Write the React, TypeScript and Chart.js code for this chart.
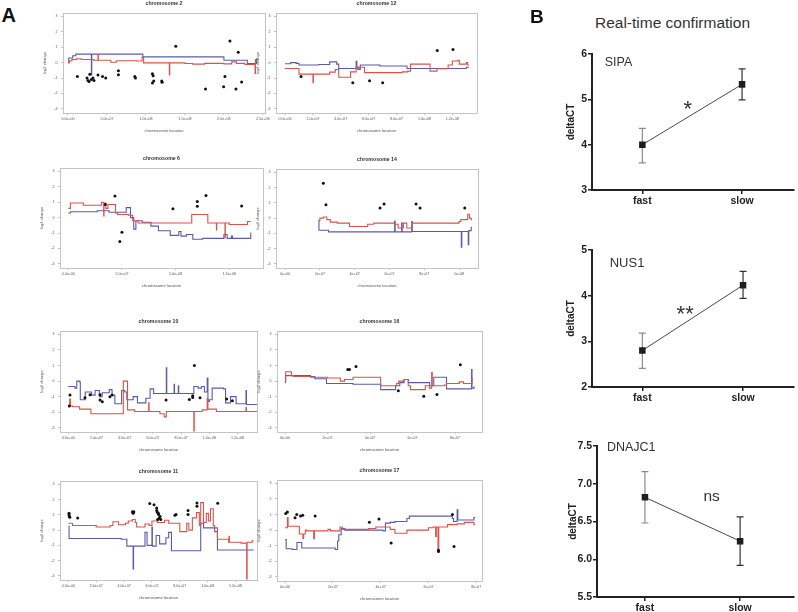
import React, { useEffect, useRef } from 'react';
import { Chart, registerables } from 'chart.js';

Chart.register(...registerables);

const FONT = "'Liberation Sans', Arial, Helvetica, sans-serif";
const RED = '#d9534a';
const BLUE = '#5b5bab';

type Pt = [number, number];

// ---------- Panel A data (x in Mb, y = log2 change) ----------
const chrYTicks = [-3, -2, -1, 0, 1, 2, 3];

const chr2Red: Pt[] = [[0, 0.0], [2, 0.12], [5, 0.2], [11, 0.25], [17, 0.2], [33, 0.15], [38.5, 0.52], [39, 0.15], [55, 0.02], [62, 0.12], [88, 0.1], [95, 0.35], [97, -0.02], [130, -0.8], [130.5, -0.02], [150, -0.06], [160, -0.1], [175, -0.05], [200, -0.08], [210, 0.05], [216, -0.05], [227, -0.12], [240, -0.7], [240.5, 0.2], [243, 0.2]];
const chr2Blue: Pt[] = [[0, 0.0], [1, 0.3], [6, 0.45], [10, 0.55], [30, -0.8], [30.5, 0.55], [96, 0.37], [200, 0.15], [230, -0.06], [242, 0.25], [243, 0.25]];
const chr2Dots: Pt[] = [[12, -0.9], [24.4, -1.0], [25.7, -1.16], [27, -1.22], [30, -1.1], [32.1, -1.0], [33.4, -1.16], [28, -0.76], [38.5, -0.8], [44.3, -0.9], [48.4, -1.0], [64.7, -0.52], [64.7, -0.78], [85.7, -0.9], [86.5, -1.0], [108.3, -0.72], [109.2, -0.85], [108.3, -1.33], [110, -1.2], [120.3, -1.2], [120.7, -1.28], [138.3, 1.07], [176.4, -1.72], [199.6, -1.56], [201.3, -0.9], [207.7, 1.4], [218.4, 0.67], [215.4, -1.72], [222.7, -1.26]];
const chr2Ticks = [0, 50, 100, 150, 200, 250];

const chr12Red: Pt[] = [[0, -0.38], [10, -0.75], [20, -1.3], [20.3, -0.75], [32, -0.62], [36, -0.45], [38.5, -0.95], [47, -0.6], [51, -0.3], [52, -0.45], [53, -0.3], [57, -0.65], [84, -0.6], [88, -0.55], [90, -0.1], [104, -0.55], [109, -0.4], [117, -0.15], [120, 0.1], [124, 0.15], [125, -0.1], [130, 0.0], [131, -0.15], [132, -0.15]];
const chr12Blue: Pt[] = [[0, -0.07], [4, 0.0], [8, -0.05], [10, -0.15], [24, -0.12], [32, 0.05], [37, -0.1], [38.5, -0.38], [51, 0.08], [51.5, -0.3], [53, -0.45], [54, -0.15], [68, -0.22], [87.5, -0.38], [130, -0.3], [132, -0.3]];
const chr12Dots: Pt[] = [[11.5, -0.9], [48.6, -1.3], [60.6, -1.18], [70, -1.3], [109.2, 0.78], [120.5, 0.85]];
const chr12Ticks = [0, 20, 40, 60, 80, 100, 120];

const chr6Red: Pt[] = [[0, 0.6], [2, 0.95], [14, 0.8], [31, 1.0], [33, 0.1], [33.3, 0.95], [35, 0.6], [37, 0.85], [44, 0.3], [46, 0.2], [56, 0.15], [60, -0.2], [65, -0.35], [115, 0.2], [130, -0.35], [138, -0.8], [138.3, -0.35], [146, -1.3], [146.3, -0.35], [150, -0.45], [167, -0.25], [170, -0.25]];
const chr6Blue: Pt[] = [[0, 0.3], [2, 0.38], [27, 0.45], [38, 0.35], [54, 0.65], [58, 0.0], [61, -0.75], [63, -0.2], [69, -0.3], [77, -0.55], [84, -0.85], [95, -1.15], [103, -0.9], [105, -1.2], [110, -1.1], [116, -1.4], [125, -1.35], [145, -1.1], [148, -1.35], [152, -1.2], [153, -1.35], [170, -1.0], [170.5, -1.0]];
const chr6Dots: Pt[] = [[34.5, 0.85], [43.5, 1.4], [50, -0.95], [48, -1.55], [97.5, 0.58], [120.2, 1.05], [120.2, 0.73], [128.3, 1.43], [161.5, 0.75]];
const chr6Ticks = [0, 50, 100, 150];

const chr14Red: Pt[] = [[19.2, -0.17], [20, 0.0], [22, 0.07], [24, -0.1], [26, -0.26], [30, -0.33], [37, -0.55], [47.5, -0.4], [51, -0.33], [63, -0.4], [65, -0.65], [68, -0.33], [70, -0.65], [73, -0.33], [100, -0.22], [101, -0.1], [105, 0.25], [106, 0.0], [107, -0.1], [107.5, -0.1]];
const chr14Blue: Pt[] = [[19.2, -0.17], [19.5, -0.8], [25, -0.9], [63, -0.2], [63.3, -0.9], [67, -0.3], [67.3, -0.9], [72.8, -0.22], [73.1, -0.88], [101.3, -1.9], [101.6, -0.88], [105.3, -1.75], [105.6, -0.82], [107, -0.6], [107.5, -0.6]];
const chr14Dots: Pt[] = [[22, 2.28], [23.5, 0.88], [54.6, 0.66], [56.9, 0.92], [75.3, 0.92], [77.6, 0.66], [103.3, 0.66]];
const chr14Ticks = [0, 20, 40, 60, 80, 100];

const chr10Red: Pt[] = [[0, -1.6], [1, -1.15], [1.5, -1.6], [3, -1.65], [8, -1.8], [16, -2.1], [39, 0.0], [42, -1.85], [47, -1.95], [57, -1.4], [57.3, -1.95], [65, -2.1], [68, -2.3], [69.5, -1.95], [89, -3.2], [89.3, -1.95], [95, -1.85], [98.5, -1.1], [99, -1.8], [105, -1.95], [126, -1.7], [126.3, -1.95], [134, -1.95]];
const chr10Blue: Pt[] = [[0, -0.35], [4.7, -0.45], [6, 0.0], [8, -0.05], [8.5, -1.2], [12, -0.7], [16.5, -0.9], [19, -0.6], [22, -1.0], [24, -0.75], [29, -0.55], [31, -0.9], [33, -1.45], [37.8, -0.6], [40, -0.7], [41.5, -1.2], [46, -1.0], [49, -1.4], [55, -1.1], [58, -0.5], [60.5, -0.8], [69.5, 0.85], [69.8, -0.8], [75, -0.2], [75.3, -0.8], [78, -0.3], [78.3, -0.8], [89, -0.35], [92, -0.45], [94.5, -0.35], [96.5, -0.7], [98.5, 0.2], [99, -1.3], [100, -1.2], [102, -0.45], [110, -0.5], [111.5, -1.4], [115, -1.0], [119, -1.45], [126, -0.6], [126.3, -1.5], [134, -1.5]];
const chr10Dots: Pt[] = [[0.7, -1.6], [1.2, -0.9], [11.8, -1.07], [15.4, -0.88], [22.5, -0.88], [22.5, -1.22], [24.1, -1.33], [29.5, -1.0], [31, -0.9], [69.3, -1.22], [85.8, -1.18], [88.2, -0.94], [88.2, -1.05], [89.4, 1.0], [93.4, -1.07], [112.3, -1.15], [116.3, -1.26]];
const chr10Ticks = [0, 20, 40, 60, 80, 100, 120];

const chr16Red: Pt[] = [[0, 0.0], [0.3, 0.6], [3, 0.35], [4, 0.3], [12, 0.25], [20, 0.2], [26, 0.0], [28, 0.1], [32, 0.25], [45, -0.3], [52.5, -0.15], [53.5, 0.0], [56, 0.1], [58, -0.3], [59, -0.55], [66, -0.3], [68, -0.45], [69, 0.55], [69.3, -0.3], [75, -0.25], [76, -0.15], [82, -0.05], [84, -0.15], [88, 0.15], [88.5, 0.15]];
const chr16Blue: Pt[] = [[0, -0.1], [0.2, 0.35], [12, 0.3], [14, 0.15], [19.5, -0.15], [32, -0.2], [45, -0.55], [52, -0.3], [54, -0.1], [56, 0.1], [58, -0.1], [68, -0.3], [70, 0.25], [76, -0.5], [87.8, 0.75], [88, -0.45], [89, -0.35]];
const chr16Dots: Pt[] = [[29.5, 0.75], [30.3, 0.75], [33.4, 0.94], [53.3, -0.62], [65.3, -0.98], [71.5, -0.86], [82.5, 1.05]];
const chr16Ticks = [0, 20, 40, 60, 80];

const chr11Red: Pt[] = [[0, 0.45], [3, 0.3], [20, 0.2], [30, 0.3], [32, 0.55], [36, 0.35], [41, 0.45], [43, 0.6], [46, 0.7], [48, 0.5], [49, 0.2], [55, 0.4], [58, 0.3], [60, 0.6], [64, 0.5], [69, 0.65], [72, 0.45], [80, -0.1], [85, 0.45], [86.5, 0.0], [89, 0.8], [92, 1.15], [94, 0.3], [95, 1.8], [97, 0.5], [99, 1.1], [100.5, 0.6], [102, 1.4], [104, 0.3], [105, 0.15], [107, -0.6], [115, -0.8], [115.3, -0.4], [115.6, -0.8], [124, -0.85], [128, -3.2], [128.3, -0.8], [132, -0.7], [133, -0.7]];
const chr11Blue: Pt[] = [[0, 0.25], [0.5, -0.55], [38, -0.6], [42, -1.05], [46.5, -2.55], [46.8, -1.05], [55, -0.15], [56.5, -1.0], [60, 0.2], [60.3, -1.05], [63, -0.35], [65.5, -0.9], [70, -0.5], [72, -0.15], [74, -1.35], [95, 0.45], [97, 0.15], [105, -0.1], [107, -1.3], [133, -1.3]];
const chr11Dots: Pt[] = [[0.5, 1.1], [0.5, 1.0], [0.7, 0.9], [1, 0.85], [6.7, 0.8], [46, 1.2], [47, 1.2], [46.5, 1.1], [58.4, 1.75], [61.5, 1.67], [63.4, 1.45], [63.4, 1.28], [63.9, 1.17], [64.6, 1.1], [64.8, 1.02], [65.8, 0.9], [65.3, 0.8], [66.3, 0.7], [64.1, 0.7], [76.5, 0.98], [77.3, 1.02], [85.9, 1.28], [85.9, 1.02], [92.3, 1.78], [92.3, 1.56], [107.2, 1.76]];
const chr11Ticks = [0, 20, 40, 60, 80, 100, 120];

const chr17Red: Pt[] = [[0, 0.15], [1, 0.8], [1.3, 0.25], [6, -0.25], [7.5, -0.55], [7.8, -0.25], [8.5, 0.0], [9, -0.05], [12, -0.55], [12.3, -0.05], [18, 0.05], [19, -0.05], [23, 0.2], [24, 0.05], [35, 0.1], [38, 0.2], [44, 0.05], [46, -0.2], [51, 0.0], [60, 0.15], [62, 0.2], [63, -0.4], [63.3, 0.2], [64, -1.3], [64.3, 0.2], [68, 0.35], [72, 0.4], [75, 0.5], [79, 0.35], [79.5, 0.35]];
const chr17Blue: Pt[] = [[0, -0.6], [0.5, -1.2], [3, -1.25], [5, -0.8], [7, -1.15], [21, -1.25], [22, -0.7], [22.5, -0.3], [23.5, 0.1], [25, 0.0], [41, -0.05], [42, 0.45], [44, 0.5], [46, 0.55], [51, 0.75], [52, 0.9], [70, 0.75], [70.5, 0.55], [72, 1.3], [72.3, 0.65], [79, 0.8], [79.5, 0.8]];
const chr17Dots: Pt[] = [[0.3, 1.07], [1, 1.17], [4.2, 0.8], [4.9, 1.0], [6.5, 0.9], [7.4, 0.96], [12.6, 0.9], [35.3, 0.5], [39.3, 0.72], [44.4, -0.83], [64.2, -1.3], [64.2, -1.38], [70, 1.0], [70.7, -1.05]];
const chr17Ticks = [0, 20, 40, 60, 80];

// ---------- Panel B data ----------
const groups = ['fast', 'slow'];
const groupsX = [0, 1];
const sipaMean = [4.0, 5.33];
const sipaLow = [3.6, 4.99];
const sipaHigh = [4.36, 5.67];
const sipaTicks = [3, 4, 5, 6];
const nus1Mean = [2.8, 4.23];
const nus1Low = [2.41, 3.94];
const nus1High = [3.18, 4.53];
const nus1Ticks = [2, 3, 4, 5];
const dnajc1Mean = [6.82, 6.24];
const dnajc1Low = [6.48, 5.92];
const dnajc1High = [7.16, 6.56];
const dnajc1Ticks = [5.5, 6.0, 6.5, 7.0, 7.5];
const barColors = ['#8c8c8c', '#333333'];

// ---------- helpers ----------
const toXY = (a: Pt[]) => a.map(([x, y]) => ({ x, y }));

function rExp(mb: number, d: number): string {
  const s = (mb * 1e6).toExponential(d);
  return s.replace(/e([+-])(\d+)$/, (_m: string, sg: string, ex: string) => 'e' + sg + ex.padStart(2, '0'));
}

const framePlugin = {
  id: 'frame',
  afterDraw(chart: any) {
    const { ctx, chartArea: a } = chart;
    ctx.save();
    ctx.strokeStyle = '#c4c4c4';
    ctx.lineWidth = 1;
    ctx.strokeRect(Math.round(a.left) + 0.5, Math.round(a.top) + 0.5, Math.round(a.right - a.left), Math.round(a.bottom - a.top));
    ctx.restore();
  },
};

interface ChromSpec {
  title: string;
  left: number; top: number; right: number; bottom: number;
  xmin: number; xmax: number;
  xticks: number[]; digits: number;
  red: Pt[]; blue: Pt[]; dots: Pt[];
}

const YW = 24;
const XH = 22;
const TH = 13;
const PR = 10;

function chromConfig(s: ChromSpec): any {
  return {
    type: 'line',
    data: {
      datasets: [
        { data: toXY(s.dots), showLine: false, pointRadius: 1.5, pointBorderWidth: 0, pointBackgroundColor: '#111', borderColor: '#111' },
        { data: toXY(s.red), borderColor: RED, borderWidth: 1.1, stepped: 'before', pointRadius: 0, fill: false },
        { data: toXY(s.blue), borderColor: BLUE, borderWidth: 1.1, stepped: 'before', pointRadius: 0, fill: false },
      ],
    },
    options: {
      responsive: false,
      animation: false,
      events: [],
      layout: { padding: { top: 0, right: PR, bottom: 0, left: 0 } },
      scales: {
        x: {
          type: 'linear', min: s.xmin, max: s.xmax,
          afterBuildTicks: (sc: any) => { sc.ticks = s.xticks.map((v) => ({ value: v })); },
          afterFit: (sc: any) => { sc.height = XH; },
          ticks: { autoSkip: false, maxRotation: 0, minRotation: 0, padding: 1.5, color: '#555', font: { family: FONT, size: 3.6 }, callback: (v: number) => rExp(v, s.digits) },
          grid: { display: true, drawOnChartArea: false, drawTicks: true, tickLength: 2, color: '#999', lineWidth: 0.6 },
          border: { display: false },
          title: { display: true, text: 'chromosome location', color: '#555', font: { family: FONT, size: 4.1 }, padding: { top: 0, bottom: 1.5 } },
        },
        y: {
          type: 'linear', min: -3.27, max: 3.22,
          afterBuildTicks: (sc: any) => { sc.ticks = chrYTicks.map((v) => ({ value: v })); },
          afterFit: (sc: any) => { sc.width = YW; },
          ticks: { padding: 3.5, color: '#555', font: { family: FONT, size: 3.6 }, callback: (v: number) => String(v) },
          grid: { display: true, drawOnChartArea: false, drawTicks: true, tickLength: 2, color: '#999', lineWidth: 0.6 },
          border: { display: false },
          title: { display: true, text: 'log2 change', color: '#555', font: { family: FONT, size: 4.1 }, padding: { top: 3.5, bottom: 0 } },
        },
      },
      plugins: {
        legend: { display: false },
        tooltip: { enabled: false },
        title: { display: true, text: s.title, fullSize: false, color: '#333', font: { family: FONT, size: 5.2, weight: 'bold' }, padding: { top: 0.4, bottom: 6.36 } },
      },
    },
    plugins: [framePlugin],
  };
}

interface Note { text: string; x: number; y: number; size: number; align?: string; }

interface QSpec {
  left: number; top: number; right: number; bottom: number;
  xmin: number; xmax: number;
  ymin: number; ymax: number; yticks: number[]; ydigits: number;
  mean: number[]; low: number[]; high: number[];
  titlePad: number;
  notes: Note[];
}

const QW = 30;
const QXH = 24;
const QPT = 8;

function qConfig(s: QSpec): any {
  const errPlugin = {
    id: 'errbars',
    beforeDatasetsDraw(chart: any) {
      const { ctx, scales } = chart;
      const x = scales.x, y = scales.y;
      ctx.save();
      groupsX.forEach((gx, i) => {
        const px = x.getPixelForValue(gx);
        const y1 = y.getPixelForValue(s.low[i]);
        const y2 = y.getPixelForValue(s.high[i]);
        ctx.strokeStyle = barColors[i];
        ctx.lineWidth = 1.2;
        ctx.beginPath();
        ctx.moveTo(px, y1); ctx.lineTo(px, y2);
        ctx.moveTo(px - 3.5, y1); ctx.lineTo(px + 3.5, y1);
        ctx.moveTo(px - 3.5, y2); ctx.lineTo(px + 3.5, y2);
        ctx.stroke();
      });
      ctx.restore();
    },
  };
  const notePlugin = {
    id: 'notes',
    afterDatasetsDraw(chart: any) {
      const { ctx, scales } = chart;
      s.notes.forEach((n) => {
        ctx.save();
        ctx.font = `${n.size}px ${FONT}`;
        ctx.fillStyle = '#333';
        ctx.textAlign = (n.align || 'center') as CanvasTextAlign;
        ctx.textBaseline = 'middle';
        ctx.fillText(n.text, scales.x.getPixelForValue(n.x), scales.y.getPixelForValue(n.y));
        ctx.restore();
      });
    },
  };
  return {
    type: 'line',
    data: {
      datasets: [{
        data: groupsX.map((x, i) => ({ x, y: s.mean[i] })),
        borderColor: '#4a4a4a', borderWidth: 1,
        pointStyle: 'rect', pointRadius: 4.6, pointBorderWidth: 0,
        pointBackgroundColor: '#1e1e1e', pointBorderColor: '#1e1e1e',
      }],
    },
    options: {
      responsive: false,
      animation: false,
      events: [],
      layout: { padding: { top: QPT, right: 0, bottom: 0, left: 0 } },
      scales: {
        x: {
          type: 'linear', min: s.xmin, max: s.xmax,
          afterBuildTicks: (sc: any) => { sc.ticks = groupsX.map((v) => ({ value: v })); },
          afterFit: (sc: any) => { sc.height = QXH; },
          ticks: { autoSkip: false, maxRotation: 0, padding: 1, color: '#222', font: { family: FONT, size: 10.5, weight: 'bold' }, callback: (v: number) => groups[v] },
          grid: { display: true, drawOnChartArea: false, drawTicks: true, tickLength: 4, lineWidth: 1.5, color: '#222' },
          border: { display: true, width: 2, color: '#222' },
        },
        y: {
          type: 'linear', min: s.ymin, max: s.ymax,
          afterBuildTicks: (sc: any) => { sc.ticks = s.yticks.map((v) => ({ value: v })); },
          afterFit: (sc: any) => { sc.width = QW; },
          ticks: { padding: 1, color: '#222', font: { family: FONT, size: 10.5, weight: 'bold' }, callback: (v: number) => v.toFixed(s.ydigits) },
          grid: { display: true, drawOnChartArea: false, drawTicks: true, tickLength: 4, lineWidth: 1.5, color: '#222' },
          border: { display: true, width: 2, color: '#222' },
          title: { display: true, text: 'deltaCT', color: '#222', font: { family: FONT, size: 10, weight: 'bold' }, padding: { top: s.titlePad, bottom: 0 } },
        },
      },
      plugins: { legend: { display: false }, tooltip: { enabled: false } },
    },
    plugins: [errPlugin, notePlugin],
  };
}

function ChartCanvas(props: { left: number; top: number; width: number; height: number; make: () => any }) {
  const ref = useRef<HTMLCanvasElement>(null);
  useEffect(() => {
    const chart = new Chart(ref.current as HTMLCanvasElement, props.make());
    return () => chart.destroy();
  }, []);
  return (
    <canvas
      ref={ref}
      width={props.width}
      height={props.height}
      style={{ position: 'absolute', left: props.left, top: props.top, width: props.width, height: props.height }}
    />
  );
}

const chromSpecs: ChromSpec[] = [
  { title: 'chromosome 2', left: 63, top: 13, right: 265, bottom: 113, xmin: -6.4, xmax: 252.7, xticks: chr2Ticks, digits: 1, red: chr2Red, blue: chr2Blue, dots: chr2Dots },
  { title: 'chromosome 12', left: 276, top: 13, right: 477, bottom: 113, xmin: -6.5, xmax: 137.7, xticks: chr12Ticks, digits: 1, red: chr12Red, blue: chr12Blue, dots: chr12Dots },
  { title: 'chromosome 6', left: 60, top: 168, right: 263, bottom: 268, xmin: -7.7, xmax: 181.4, xticks: chr6Ticks, digits: 1, red: chr6Red, blue: chr6Blue, dots: chr6Dots },
  { title: 'chromosome 14', left: 276, top: 169, right: 478, bottom: 268, xmin: -5.2, xmax: 110.9, xticks: chr14Ticks, digits: 0, red: chr14Red, blue: chr14Blue, dots: chr14Dots },
  { title: 'chromosome 10', left: 60, top: 331, right: 257, bottom: 432, xmin: -5.9, xmax: 133.8, xticks: chr10Ticks, digits: 1, red: chr10Red, blue: chr10Blue, dots: chr10Dots },
  { title: 'chromosome 16', left: 277, top: 331, right: 482, bottom: 432, xmin: -3.8, xmax: 92.7, xticks: chr16Ticks, digits: 0, red: chr16Red, blue: chr16Blue, dots: chr16Dots },
  { title: 'chromosome 11', left: 60, top: 481, right: 257, bottom: 580, xmin: -6.0, xmax: 135.4, xticks: chr11Ticks, digits: 1, red: chr11Red, blue: chr11Blue, dots: chr11Dots },
  { title: 'chromosome 17', left: 277, top: 480, right: 482, bottom: 581, xmin: -3.35, xmax: 82.4, xticks: chr17Ticks, digits: 0, red: chr17Red, blue: chr17Blue, dots: chr17Dots },
];

const qSpecs: QSpec[] = [
  {
    left: 592, top: 54, right: 798, bottom: 190, xmin: -0.505, xmax: 1.515,
    ymin: 3, ymax: 6, yticks: sipaTicks, ydigits: 0,
    mean: sipaMean, low: sipaLow, high: sipaHigh, titlePad: 3.7,
    notes: [{ text: 'SIPA', x: -0.377, y: 5.81, size: 12.5, align: 'left' }, { text: '*', x: 0.456, y: 4.76, size: 22 }],
  },
  {
    left: 592, top: 250, right: 798, bottom: 387, xmin: -0.5, xmax: 1.5,
    ymin: 2, ymax: 5, yticks: nus1Ticks, ydigits: 0,
    mean: nus1Mean, low: nus1Low, high: nus1High, titlePad: 3.7,
    notes: [{ text: 'NUS1', x: -0.324, y: 4.715, size: 13, align: 'left' }, { text: '**', x: 0.425, y: 3.58, size: 22 }],
  },
  {
    left: 597, top: 446, right: 798, bottom: 597, xmin: -0.504, xmax: 1.56,
    ymin: 5.5, ymax: 7.5, yticks: dnajc1Ticks, ydigits: 1,
    mean: dnajc1Mean, low: dnajc1Low, high: dnajc1High, titlePad: 0,
    notes: [{ text: 'DNAJC1', x: -0.4, y: 7.48, size: 12.5, align: 'left' }, { text: 'ns', x: 0.7, y: 6.83, size: 15.5 }],
  },
];

export default function App() {
  return (
    <div style={{ position: 'fixed', left: 0, top: 0, width: 798, height: 612, overflow: 'hidden', background: '#ffffff', fontFamily: FONT }}>
      {chromSpecs.map((s) => (
        <ChartCanvas
          key={s.title}
          left={s.left - YW}
          top={s.top - TH}
          width={s.right - s.left + YW + PR}
          height={s.bottom - s.top + TH + XH}
          make={() => chromConfig(s)}
        />
      ))}
      {qSpecs.map((s, i) => (
        <ChartCanvas
          key={'q' + i}
          left={s.left - QW}
          top={s.top - QPT}
          width={s.right - s.left + QW}
          height={s.bottom - s.top + QPT + QXH}
          make={() => qConfig(s)}
        />
      ))}
      <div style={{ position: 'absolute', left: 1.5, top: 4.5, fontSize: 20, lineHeight: '20px', fontWeight: 'bold', color: '#111' }}>A</div>
      <div style={{ position: 'absolute', left: 530, top: 6.8, fontSize: 19, lineHeight: '19px', fontWeight: 'bold', color: '#111' }}>B</div>
      <div style={{ position: 'absolute', left: 672.5, top: 15.2, fontSize: 15.5, lineHeight: '15.5px', color: '#333', transform: 'translateX(-50%)', whiteSpace: 'nowrap' }}>Real-time confirmation</div>
    </div>
  );
}
